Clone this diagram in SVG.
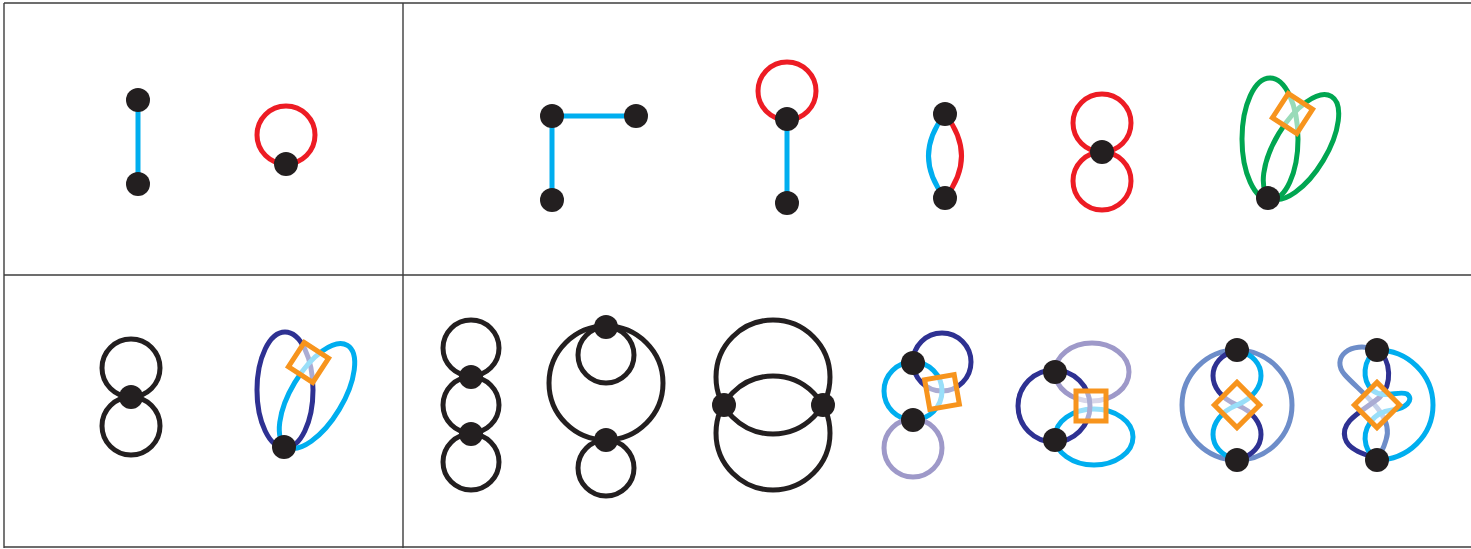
<svg xmlns="http://www.w3.org/2000/svg" width="1471" height="549" viewBox="0 0 1471 549">
<defs>
<style>
.frame{stroke:#3d3d3d;stroke-width:1.4;fill:none}
.e{fill:none;stroke-width:5}
.k{stroke:#231f20}
.c{stroke:#00aeef}
.r{stroke:#ed1c24}
.g{stroke:#00a651}
.n{stroke:#2e3192}
.l{stroke:#9e99c9}
.s{stroke:#6d8dc9}
.v{fill:#231f20}
.sq{fill:#ffffff;fill-opacity:0.6;stroke:#f7941d;stroke-width:5}
</style>
</defs>
<rect width="1471" height="549" fill="#ffffff"/>
<g id="frame">
<line class="frame" x1="4" y1="3" x2="1471" y2="3"/>
<line class="frame" x1="4" y1="3" x2="4" y2="548"/>
<line class="frame" x1="403" y1="3" x2="403" y2="548"/>
<line class="frame" x1="4" y1="275" x2="1471" y2="275"/>
<line class="frame" x1="4" y1="547" x2="1471" y2="547"/>
</g>

<!-- top-left panel -->
<g id="g1">
<g class="connectors"><line class="e c" x1="138" y1="100" x2="138" y2="184"/></g>
<circle id="g1n1" class="v" cx="138" cy="100" r="12"/>
<circle id="g1n2" class="v" cx="138" cy="184" r="12"/>
</g>
<g id="g2">
<g class="connectors"><circle class="e r" cx="286" cy="135" r="29"/></g>
<circle id="g2n1" class="v" cx="286" cy="164" r="12"/>
</g>

<!-- top-right panel -->
<g id="g3">
<g class="connectors"><polyline class="e c" points="636,116 552,116 552,200"/></g>
<circle id="g3n1" class="v" cx="552" cy="116" r="12"/>
<circle id="g3n2" class="v" cx="636" cy="116" r="12"/>
<circle id="g3n3" class="v" cx="552" cy="200" r="12"/>
</g>
<g id="g4">
<g class="connectors">
<circle class="e r" cx="787" cy="91" r="29"/>
<line class="e c" x1="787" y1="119" x2="787" y2="203"/>
</g>
<circle id="g4n1" class="v" cx="787" cy="119" r="12"/>
<circle id="g4n2" class="v" cx="787" cy="203" r="12"/>
</g>
<g id="g5">
<g class="connectors">
<path class="e c" d="M945,114 Q912,156 945,198"/>
<path class="e r" d="M945,114 Q978,156 945,198"/>
</g>
<circle id="g5n1" class="v" cx="945" cy="114" r="12"/>
<circle id="g5n2" class="v" cx="945" cy="198" r="12"/>
</g>
<g id="g6">
<g class="connectors">
<circle class="e r" cx="1102" cy="123" r="29"/>
<circle class="e r" cx="1102" cy="181" r="29"/>
</g>
<circle id="g6n1" class="v" cx="1102" cy="152" r="12"/>
</g>
<g id="g7">
<g class="connectors">
<ellipse class="e g" cx="1270" cy="139" rx="28" ry="61"/>
<ellipse class="e g" cx="1301" cy="147" rx="26" ry="59" transform="rotate(31 1301 147)"/>
</g>
<rect class="sq" x="1278" y="99" width="29" height="29" transform="rotate(33 1292.5 113.5)"/>
<circle id="g7n1" class="v" cx="1268" cy="198" r="12"/>
</g>

<!-- bottom-left panel -->
<g id="g8">
<g class="connectors">
<circle class="e k" cx="131" cy="368" r="29"/>
<circle class="e k" cx="131" cy="426" r="29"/>
</g>
<circle id="g8n1" class="v" cx="131" cy="397" r="12"/>
</g>
<g id="g9">
<g class="connectors">
<ellipse class="e n" cx="285" cy="390" rx="28" ry="58"/>
<ellipse class="e c" cx="317" cy="396" rx="26" ry="59" transform="rotate(31 317 396)"/>
</g>
<rect class="sq" x="294" y="348" width="29" height="29" transform="rotate(33 308.5 362.5)"/>
<circle id="g9n1" class="v" cx="284" cy="447" r="12"/>
</g>

<!-- bottom-right panel -->
<g id="g10">
<g class="connectors">
<circle class="e k" cx="471" cy="348" r="28"/>
<circle class="e k" cx="471" cy="405" r="28"/>
<circle class="e k" cx="471" cy="462" r="28"/>
</g>
<circle id="g10n1" class="v" cx="471" cy="377" r="12"/>
<circle id="g10n2" class="v" cx="471" cy="434" r="12"/>
</g>
<g id="g11">
<g class="connectors">
<circle class="e k" cx="606" cy="383" r="57"/>
<circle class="e k" cx="606" cy="355" r="28"/>
<circle class="e k" cx="606" cy="468" r="28"/>
</g>
<circle id="g11n1" class="v" cx="606" cy="327" r="12"/>
<circle id="g11n2" class="v" cx="606" cy="440" r="12"/>
</g>
<g id="g12">
<g class="connectors">
<circle class="e k" cx="773" cy="377" r="57"/>
<circle class="e k" cx="773" cy="433" r="57"/>
</g>
<circle id="g12n1" class="v" cx="724" cy="405" r="12"/>
<circle id="g12n2" class="v" cx="823" cy="405" r="12"/>
</g>
<g id="g13">
<g class="connectors">
<circle class="e n" cx="942" cy="362" r="29"/>
<circle class="e c" cx="913" cy="391" r="29"/>
<circle class="e l" cx="913" cy="448" r="29"/>
</g>
<rect class="sq" x="927" y="377" width="30" height="30" transform="rotate(-10 942 392)"/>
<circle id="g13n1" class="v" cx="913" cy="363" r="12"/>
<circle id="g13n2" class="v" cx="913" cy="420" r="12"/>
</g>
<g id="g14">
<g class="connectors">
<ellipse class="e l" cx="1092" cy="372" rx="37" ry="29"/>
<ellipse class="e c" cx="1094" cy="437" rx="39" ry="28"/>
<circle class="e n" cx="1054" cy="406" r="36"/>
</g>
<rect class="sq" x="1076" y="391" width="30" height="30"/>
<circle id="g14n1" class="v" cx="1055" cy="372" r="12"/>
<circle id="g14n2" class="v" cx="1055" cy="440" r="12"/>
</g>
<g id="g15">
<g class="connectors">
<circle class="e s" cx="1237" cy="405" r="55"/>
<path class="e n" d="M1237,350 C1205,358 1205,392 1237,405 C1269,418 1269,452 1237,460"/>
<path class="e c" d="M1237,350 C1269,358 1269,392 1237,405 C1205,418 1205,452 1237,460"/>
</g>
<rect class="sq" x="1221" y="389" width="32" height="32" transform="rotate(45 1237 405)"/>
<circle id="g15n1" class="v" cx="1237" cy="350" r="12"/>
<circle id="g15n2" class="v" cx="1237" cy="460" r="12"/>
</g>
<g id="g16">
<g class="connectors">
<path class="e c" d="M1377,350 A56,55 0 0 1 1377,460"/>
<path class="e s" d="M1377,350 C1350,340 1330,358 1345,375 C1360,392 1395,415 1386,440 C1383,450 1380,455 1377,458"/>
<path class="e n" d="M1377,350 C1392,360 1392,385 1380,397 C1365,410 1340,420 1345,438 C1348,450 1365,455 1377,458"/>
<path class="e c" d="M1377,350 C1362,360 1362,380 1372,390 C1385,400 1398,390 1407,394 C1415,400 1405,409 1392,410 C1372,412 1362,430 1366,445 C1368,452 1372,456 1377,458"/>
</g>
<rect class="sq" x="1361" y="389" width="32" height="32" transform="rotate(45 1377 405)"/>
<circle id="g16n1" class="v" cx="1377" cy="350" r="12"/>
<circle id="g16n2" class="v" cx="1377" cy="460" r="12"/>
</g>
</svg>
